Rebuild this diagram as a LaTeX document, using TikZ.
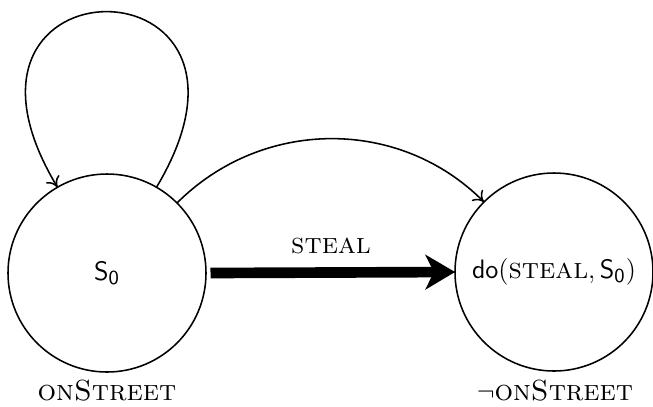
\documentclass[tikz,border=0pt]{standalone}
\usetikzlibrary{arrows.meta}
\begin{document}
\begin{tikzpicture}[x=0.45pt,y=-0.45pt,
  font=\fontsize{13.1pt}{15.7pt}\selectfont,
  state/.style={draw,circle,line width=0.7pt,minimum size=89.1pt,inner sep=0pt,outer sep=0pt},
  lbl/.style={inner sep=0pt},
  thin/.style={line width=0.7pt,-{To[length=4.5pt,width=7pt]}},
  big/.style={line width=4.8pt,-{Stealth[length=13.5pt,width=16pt,inset=4pt,line width=0pt]}}]
\useasboundingbox (0,0) rectangle (653,406);
\node[state] (s0) at (107,273) {$\mathsf{S_0}$};
\node[state] (s1) at (554,272) {$\mathsf{do}(\textsc{steal},\mathsf{S_0})$};
\node[lbl] (l0) at (107,391) {\textsc{onStreet}};
\node[lbl] (l1) at (555,391) {$\neg$\textsc{onStreet}};
\draw[big] (s0.east) ++(4.5,0) coordinate (a0) -- (s1.west) coordinate (a1);
\node[lbl] (st) at (331,246) {\textsc{steal}};
\draw[thin] (s0.60) .. controls +(140,-234) and +(-140,-234) .. (s0.120);
\draw[thin] (s0.45) to[out=45,in=135] (s1.135);
\end{tikzpicture}
\end{document}
